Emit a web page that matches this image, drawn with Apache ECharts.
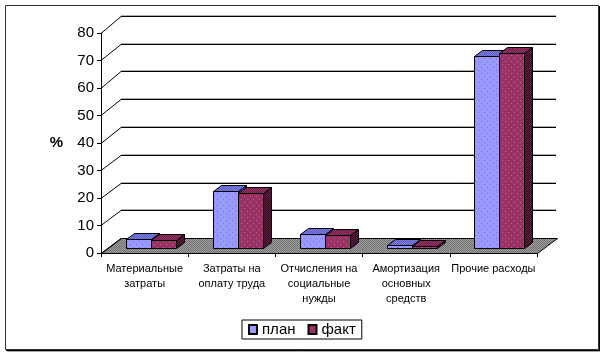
<!DOCTYPE html>
<html><head><meta charset="utf-8">
<script src="https://cdn.jsdelivr.net/npm/echarts@6/dist/echarts.min.js"></script>
<style>html,body{margin:0;padding:0;background:#fff}#c{width:605px;height:356px}</style>
</head><body><div id="c"></div>
<script>
// ---- data ----
const categories = ['Материальные\nзатраты', 'Затраты на\nоплату труда', 'Отчисления на\nсоциальные\nнужды', 'Амортизация\nосновных\nсредств', 'Прочие расходы'];
const planValues = [3.3, 20.6, 5.2, 1.0, 69.7];
const factValues = [3.1, 20.0, 4.8, 0.9, 70.9];
const yTicks = [0, 10, 20, 30, 40, 50, 60, 70, 80];
const seriesNames = ['план', 'факт'];

// ---- pseudo-3D geometry (styles) ----
const WALL_DX = 20, WALL_DY0 = -14.4, WALL_DY_TOP = -16.6;
const BAR_OFF_X = 6, BAR_OFF_Y = -4.4, BAR_DX = 8, BAR_DY = -6, BAR_FRAC = 25 / 87.2;
const FONT = '"Liberation Sans", Arial, sans-serif';

function makePattern(base, dot) {
  const c = document.createElement('canvas');
  c.width = 6; c.height = 6;
  const g = c.getContext('2d');
  g.fillStyle = base; g.fillRect(0, 0, 6, 6);
  g.fillStyle = dot; g.fillRect(1, 1, 1, 1); g.fillRect(4, 4, 1, 1);
  return { image: c, repeat: 'repeat' };
}
function makeChecker(a, b) {
  const c = document.createElement('canvas');
  c.width = 2; c.height = 2;
  const g = c.getContext('2d');
  g.fillStyle = a; g.fillRect(0, 0, 2, 2);
  g.fillStyle = b; g.fillRect(0, 0, 1, 1); g.fillRect(1, 1, 1, 1);
  return { image: c, repeat: 'repeat' };
}
const styles = [
  { front: makePattern('#9999ff', '#7373d9'), top: makeChecker('#8080e6', '#5c5cc0'), side: makeChecker('#5c5cc0', '#2e2e80'), color: '#9999ff' },
  { front: makePattern('#993366', '#c0608c'), top: makeChecker('#993366', '#6b1f47'), side: makeChecker('#6b1f47', '#2a0a1c'), color: '#993366' }
];
const floorFill = makeChecker('#a0a0a0', '#707070');

function r5(v) { return Math.round(v - 0.5) + 0.5; }
function wallDy(v) { return WALL_DY0 + (WALL_DY_TOP - WALL_DY0) * v / 80; }

function barRender(which) {
  return function (params, api) {
    const idx = api.value(0), v = api.value(1);
    const base = api.coord([idx, 0]);
    const top = api.coord([idx, v]);
    const band = api.size([1, 0])[0];
    const w = Math.round(band * BAR_FRAC);
    const cx = Math.round(base[0] + BAR_OFF_X);
    const x0 = (which === 0 ? cx - w : cx) + 0.5;
    const x1 = x0 + w;
    const yb = r5(base[1] + BAR_OFF_Y);
    const yt = r5(top[1] + BAR_OFF_Y);
    const st = styles[which];
    const ln = { stroke: '#000', lineWidth: 1, lineJoin: 'miter' };
    return {
      type: 'group',
      children: [
        { type: 'polygon', shape: { points: [[x1, yt], [x1 + BAR_DX, yt + BAR_DY], [x1 + BAR_DX, yb + BAR_DY], [x1, yb]] }, style: Object.assign({ fill: st.side }, ln) },
        { type: 'polygon', shape: { points: [[x0, yt], [x1, yt], [x1 + BAR_DX, yt + BAR_DY], [x0 + BAR_DX, yt + BAR_DY]] }, style: Object.assign({ fill: st.top }, ln) },
        { type: 'rect', shape: { x: x0, y: yt, width: w, height: yb - yt }, style: Object.assign({ fill: st.front }, ln) }
      ]
    };
  };
}

function wallRender(params, api) {
  const v = api.value(1);
  const cs = params.coordSys;
  const p = api.coord([0, v]);
  const gx = cs.x, gw = cs.width;
  const y = r5(p[1]);
  const yb = r5(p[1] + wallDy(v));
  const bx = gx + WALL_DX;
  const children = [
    { type: 'line', shape: { x1: gx, y1: y, x2: bx, y2: yb }, style: { stroke: '#000', lineWidth: 1 } }
  ];
  if (v > 0) {
    children.push({ type: 'line', shape: { x1: bx, y1: yb - 1, x2: gx + gw + WALL_DX - 1, y2: yb - 1 }, style: { stroke: '#b0b0b0', lineWidth: 1 } });
    children.push({ type: 'line', shape: { x1: bx, y1: yb, x2: gx + gw + WALL_DX - 1, y2: yb }, style: { stroke: '#000', lineWidth: 1 } });
  }
  return { type: 'group', children };
}

function floorRender(params, api) {
  const cs = params.coordSys;
  const p = api.coord([0, 0]);
  const y = r5(p[1]);
  const yb = r5(p[1] + wallDy(0));
  const gx = cs.x + 0.5, gr = cs.x + cs.width + 0.5;
  return {
    type: 'polygon',
    shape: { points: [[gx, y], [gr, y], [gr + WALL_DX, yb], [gx + WALL_DX, yb]] },
    style: { fill: floorFill, stroke: '#000', lineWidth: 1 }
  };
}

const chart = echarts.init(document.getElementById('c'), null, { renderer: 'canvas' });
chart.setOption({
  animation: false,
  backgroundColor: '#fff',
  textStyle: { fontFamily: FONT },
  grid: { left: 101, right: 68, top: 33, bottom: 103, containLabel: false },
  xAxis: {
    type: 'category',
    data: categories,
    axisLine: { lineStyle: { color: '#000', width: 1 } },
    axisTick: { show: true, length: 4, lineStyle: { color: '#000' } },
    axisLabel: { color: '#000', fontSize: 11, lineHeight: 15, margin: 8, interval: 0, fontFamily: FONT }
  },
  yAxis: {
    type: 'value',
    min: 0, max: 80, interval: 10,
    name: '%',
    nameLocation: 'middle',
    nameRotate: 0,
    nameGap: 38,
    nameTextStyle: { color: '#000', fontSize: 15, fontWeight: 'bold', fontFamily: FONT },
    axisLine: { show: true, lineStyle: { color: '#000', width: 1 } },
    axisTick: { show: true, length: 4, lineStyle: { color: '#000' } },
    axisLabel: { color: '#000', fontSize: 15, margin: 7, fontFamily: FONT },
    splitLine: { show: false }
  },
  legend: {
    data: seriesNames,
    left: 242, top: 320,
    orient: 'horizontal',
    itemWidth: 8, itemHeight: 9, itemGap: 12,
    padding: [2, 6, 2, 6],
    borderColor: '#000', borderWidth: 1,
    icon: 'rect',
    textStyle: { color: '#000', fontSize: 15, fontFamily: FONT }
  },
  graphic: [
    { type: 'rect', shape: { x: 5.5, y: 5.5, width: 593, height: 344 }, style: { fill: 'none', stroke: '#333', lineWidth: 1 }, silent: true },
    { type: 'line', shape: { x1: 599.5, y1: 6, x2: 599.5, y2: 351 }, style: { stroke: '#000', lineWidth: 1 }, silent: true },
    { type: 'line', shape: { x1: 6, y1: 350.5, x2: 600, y2: 350.5 }, style: { stroke: '#000', lineWidth: 1 }, silent: true },
    { type: 'line', shape: { x1: 7, y1: 351.5, x2: 600, y2: 351.5 }, style: { stroke: '#aaa', lineWidth: 1 }, silent: true }
  ],
  series: [
    { type: 'custom', name: 'floor', silent: true, z: 1, renderItem: floorRender, data: [[0, 0]], encode: { x: 0, y: 1 } },
    { type: 'custom', name: 'wall', silent: true, z: 2, renderItem: wallRender, data: yTicks.map(v => [0, v]), encode: { x: 0, y: 1 } },
    { type: 'custom', name: seriesNames[0], z: 3, renderItem: barRender(0), itemStyle: { color: styles[0].color, borderColor: '#000', borderWidth: 1 }, data: planValues.map((v, i) => [i, v]), encode: { x: 0, y: 1 } },
    { type: 'custom', name: seriesNames[1], z: 4, renderItem: barRender(1), itemStyle: { color: styles[1].color, borderColor: '#000', borderWidth: 1 }, data: factValues.map((v, i) => [i, v]), encode: { x: 0, y: 1 } }
  ]
});
</script>
</body></html>
